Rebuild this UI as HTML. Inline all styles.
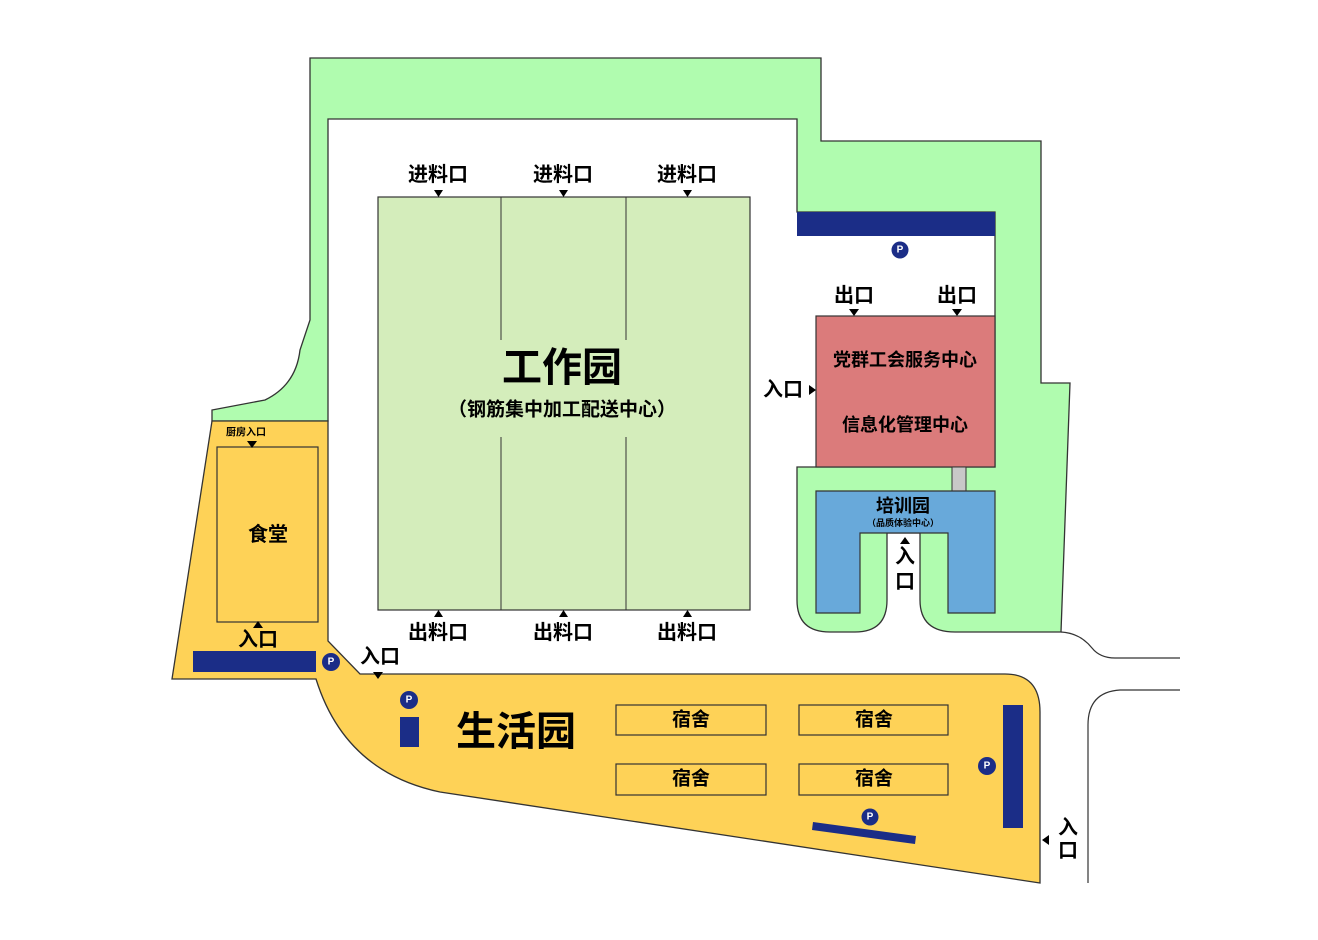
<!DOCTYPE html>
<html><head><meta charset="utf-8"><style>
html,body{margin:0;padding:0;background:#fff}
svg{display:block}
text{font-family:"Liberation Sans","Noto Sans CJK SC",sans-serif;font-weight:bold;fill:#000;text-anchor:middle;dominant-baseline:central}
</style></head><body>
<svg width="1318" height="940" viewBox="0 0 1318 940" xmlns="http://www.w3.org/2000/svg">
<!-- green band -->
<path d="M310,58 L821,58 L821,141 L1041,141 L1041,383 L1070,383 L1061,632 L955,632 Q920,632 920,600 L920,533 L887,533 L887,600 Q887,632 855,632 L830,632 Q797,632 797,600 L797,467 L995,467 L995,212 L797,212 L797,119 L328,119 L328,421 L212,421 L212,410 L265,400 Q296,385 300,350 L310,320 Z" fill="#b0fcaf" stroke="#333" stroke-width="1.3"/>
<!-- road lines -->
<path d="M1061,632 Q1080,633 1092,648 Q1100,658 1115,658 L1180,658" fill="none" stroke="#333" stroke-width="1.2"/>
<path d="M1180,690 L1120,690 Q1088,692 1088,725 L1088,883" fill="none" stroke="#333" stroke-width="1.2"/>
<!-- yellow -->
<path d="M212,421 L328,421 L328,641 L360,674 L1005,674 Q1040,674 1040,712 L1040,883 L440,792 Q345,772 316,679 L172,679 Z" fill="#fed257" stroke="#333" stroke-width="1.3"/>
<!-- canteen -->
<rect x="217" y="447" width="101" height="175" fill="#fed257" stroke="#333" stroke-width="1.2"/>
<text x="268" y="535" font-size="20">食堂</text>
<text x="246" y="433" font-size="10">厨房入口</text>
<path d="M247,441 L257,441 L252,448 Z"/>
<path d="M253,622 L263,622 L258,615 Z" transform="translate(0,6)"/>
<text x="258" y="640" font-size="20">入口</text>
<rect x="193" y="651" width="123" height="21" fill="#1b2d87"/>
<circle cx="331" cy="662" r="9" fill="#1b2d87"/><text x="331" y="662" font-size="10" style="fill:#fff">P</text>
<text x="380" y="657" font-size="20">入口</text>
<path d="M373,672 L383,672 L378,679 Z"/>
<!-- work park -->
<rect x="378" y="197" width="372" height="413" fill="#d4edbb" stroke="#333" stroke-width="1.2"/>
<line x1="501" y1="197" x2="501" y2="340" stroke="#333"/><line x1="501" y1="437" x2="501" y2="610" stroke="#333"/>
<line x1="626" y1="197" x2="626" y2="340" stroke="#333"/><line x1="626" y1="437" x2="626" y2="610" stroke="#333"/>
<text x="562" y="368" font-size="40">工作园</text>
<text x="562" y="410" font-size="19">（钢筋集中加工配送中心）</text>
<g font-size="20">
<text x="438" y="175">进料口</text><text x="563" y="175">进料口</text><text x="687" y="175">进料口</text>
<text x="438" y="633">出料口</text><text x="563" y="633">出料口</text><text x="687" y="633">出料口</text>
</g>
<path d="M434,190 L443,190 L438.5,197 Z M559,190 L568,190 L563.5,197 Z M683,190 L692,190 L687.5,197 Z"/>
<path d="M434,617 L443,617 L438.5,610 Z M559,617 L568,617 L563.5,610 Z M683,617 L692,617 L687.5,610 Z"/>
<!-- top parking -->
<rect x="797" y="212" width="198" height="24" fill="#1b2d87"/>
<circle cx="900" cy="250" r="8.5" fill="#1b2d87"/><text x="900" y="250" font-size="10" style="fill:#fff">P</text>
<!-- red -->
<rect x="816" y="316" width="179" height="151" fill="#db7b7b" stroke="#333" stroke-width="1.2"/>
<text x="905" y="360" font-size="18">党群工会服务中心</text>
<text x="905" y="425" font-size="18">信息化管理中心</text>
<text x="854" y="296" font-size="20">出口</text><text x="957" y="296" font-size="20">出口</text>
<path d="M849,309 L859,309 L854,316 Z M952,309 L962,309 L957,316 Z"/>
<text x="783" y="390" font-size="20">入口</text>
<path d="M809,385 L809,395 L816,390 Z"/>
<!-- grey connector -->
<rect x="952" y="467" width="14" height="24" fill="#c8c8c8" stroke="#333" stroke-width="1"/>
<!-- blue building -->
<path d="M816,491 L995,491 L995,613 L948,613 L948,533 L860,533 L860,613 L816,613 Z" fill="#68a9da" stroke="#333" stroke-width="1.2"/>
<text x="903" y="506" font-size="18">培训园</text>
<text x="903" y="523" font-size="9">（品质体验中心）</text>
<path d="M900,544 L910,544 L905,537 Z"/>
<text x="905" y="557" font-size="20">入</text><text x="905" y="582" font-size="20">口</text>
<!-- living park -->
<circle cx="409" cy="700" r="9" fill="#1b2d87"/><text x="409" y="700" font-size="10" style="fill:#fff">P</text>
<rect x="400" y="717" width="19" height="30" fill="#1b2d87"/>
<text x="516" y="732" font-size="40">生活园</text>
<g fill="none" stroke="#333" stroke-width="1.2">
<rect x="616" y="705" width="150" height="30"/><rect x="799" y="705" width="149" height="30"/>
<rect x="616" y="764" width="150" height="31"/><rect x="799" y="764" width="149" height="31"/>
</g>
<g font-size="19">
<text x="691" y="720">宿舍</text><text x="874" y="720">宿舍</text>
<text x="691" y="779">宿舍</text><text x="874" y="779">宿舍</text>
</g>
<path d="M813,822 L916,836 L915,844 L812,830 Z" fill="#1b2d87"/>
<circle cx="870" cy="817" r="8.5" fill="#1b2d87"/><text x="870" y="817" font-size="10" style="fill:#fff">P</text>
<rect x="1003" y="705" width="20" height="123" fill="#1b2d87"/>
<circle cx="987" cy="766" r="9" fill="#1b2d87"/><text x="987" y="766" font-size="10" style="fill:#fff">P</text>
<path d="M1049,835 L1049,845 L1042,840 Z"/>
<text x="1068" y="828" font-size="20">入</text><text x="1068" y="851" font-size="20">口</text>
</svg>
</body></html>
